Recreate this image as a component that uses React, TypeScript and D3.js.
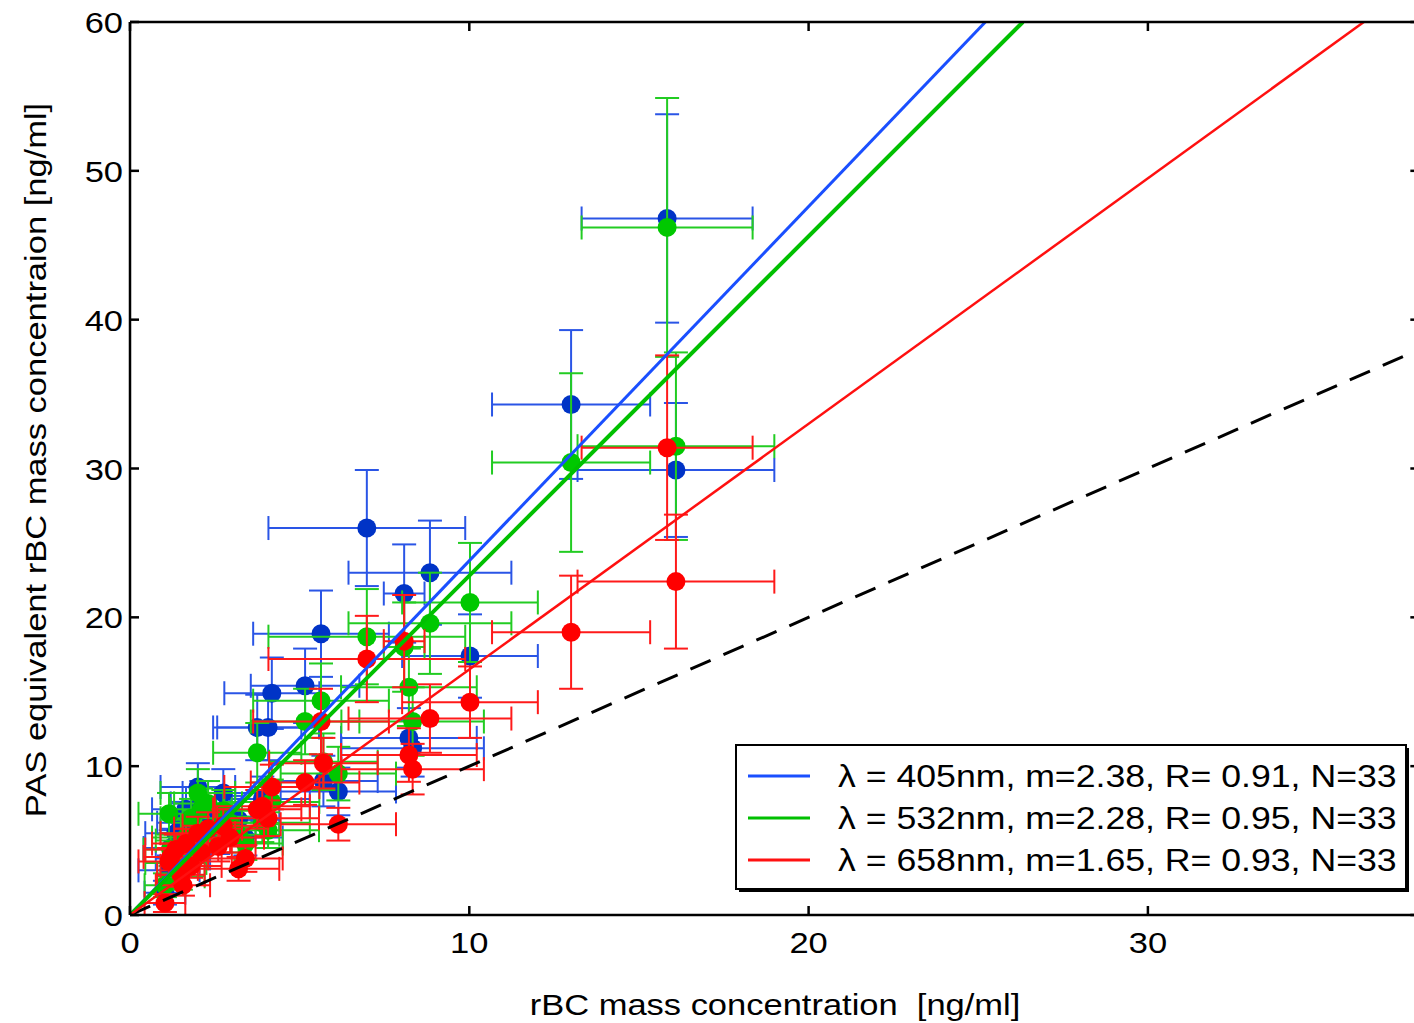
import React from "react";
import * as d3 from "d3";

const xVals = [1.03, 1.15, 1.2, 1.35, 1.5, 1.56, 1.65, 1.8, 2.0, 2.1, 2.3, 2.6, 2.75, 2.95, 3.2, 3.4, 3.75, 3.9, 4.07, 4.18, 5.16, 5.63, 5.7, 6.14, 6.98, 8.08, 8.22, 8.33, 8.84, 10.02, 13.0, 15.83, 16.09];
const xErr = [0.6, 0.9, 0.8, 0.9, 0.7, 0.8, 1.0, 0.9, 1.1, 0.9, 1.0, 1.1, 1.2, 1.0, 1.2, 1.1, 1.3, 1.4, 1.5, 1.4, 1.6, 2.0, 1.6, 1.7, 2.9, 0.6, 2.0, 2.1, 2.4, 2.0, 2.33, 2.52, 2.9];

const blueY = [1.5, 3.0, 4.5, 5.5, 6.2, 3.8, 7.1, 5.8, 8.6, 7.5, 6.8, 5.4, 8.2, 6.6, 6.4, 5.2, 12.6, 7.8, 12.6, 14.9, 15.4, 18.9, 9.0, 8.3, 26.0, 21.6, 11.9, 11.2, 23.0, 17.4, 34.3, 46.8, 29.9];
const blueErr = [0.8, 1.0, 1.2, 1.3, 1.4, 1.0, 1.5, 1.3, 1.6, 1.5, 1.4, 1.3, 1.6, 1.4, 1.4, 1.2, 2.2, 1.5, 2.2, 2.4, 2.5, 2.9, 1.7, 1.6, 3.9, 3.3, 2.0, 1.9, 3.5, 2.8, 5.0, 7.0, 4.5];

const greenY = [2.0, 6.8, 4.4, 3.5, 2.6, 5.0, 5.2, 6.5, 8.2, 7.1, 7.5, 6.0, 7.0, 6.2, 5.4, 4.8, 10.9, 6.2, 5.7, 7.6, 13.0, 14.4, 10.3, 9.5, 18.7, 18.0, 15.3, 13.0, 19.6, 21.0, 30.4, 46.2, 31.5];
const greenErr = [0.8, 1.4, 1.1, 1.0, 0.9, 1.2, 1.2, 1.3, 1.6, 1.4, 1.5, 1.3, 1.4, 1.3, 1.2, 1.1, 2.0, 1.3, 1.2, 1.5, 2.2, 2.5, 1.9, 1.8, 3.2, 3.0, 2.6, 2.3, 3.4, 4.0, 6.0, 8.7, 6.3];

const redY = [0.8, 3.6, 3.9, 4.4, 2.7, 2.0, 4.8, 3.3, 5.5, 4.2, 5.8, 4.6, 6.0, 5.2, 3.1, 3.8, 7.1, 7.3, 6.5, 8.6, 8.9, 13.0, 10.2, 6.1, 17.2, 18.4, 10.75, 9.8, 13.2, 14.3, 19.0, 31.4, 22.4];
const redErr = [0.6, 0.9, 0.9, 1.0, 0.8, 0.7, 1.0, 0.8, 1.1, 0.9, 1.1, 1.0, 1.1, 1.0, 0.8, 0.9, 1.3, 1.3, 1.2, 1.5, 1.5, 2.2, 1.7, 1.1, 2.9, 3.1, 1.8, 1.7, 2.3, 2.4, 3.8, 6.2, 4.5];

const slopes = [2.38, 2.28, 1.65];
const legendLabels = [
  "λ = 405nm, m=2.38, R= 0.91, N=33",
  "λ = 532nm, m=2.28, R= 0.95, N=33",
  "λ = 658nm, m=1.65, R= 0.93, N=33",
];
const xTicks = [0, 10, 20, 30];
const yTicks = [0, 10, 20, 30, 40, 50, 60];

const seriesStyles = [
  { marker: "#0033c6", bar: "#2a55e6", line: "#1a4fff", lw: 3 },
  { marker: "#00c800", bar: "#22cc22", line: "#00c000", lw: 4 },
  { marker: "#ff0000", bar: "#ff1a1a", line: "#ff1010", lw: 2.5 },
];

const W = 1414;
const H = 1023;
const left = 130;
const top = 22;
const bottom = 915;
const xMax = 38;
const xScale = d3.scaleLinear().domain([0, xMax]).range([left, left + xMax * 33.93]);
const yScale = d3.scaleLinear().domain([0, 60]).range([bottom, top]);
const FONT = "Liberation Sans, Arial, sans-serif";
const SX = 1.15;

function SText({ x, y, anchor = "start", size = 30, rotate = 0, children }: any) {
  return (
    <text
      transform={`translate(${x},${y}) rotate(${rotate}) scale(${SX},1)`}
      textAnchor={anchor}
      fontFamily={FONT}
      fontSize={size}
      fill="#000"
      style={{ whiteSpace: "pre" }}
    >
      {children}
    </text>
  );
}

function Series({ ys, errs, style }: { ys: number[]; errs: number[]; style: any }) {
  const cap = 12;
  return (
    <g>
      {xVals.map((x, i) => {
        const cx = xScale(x);
        const cy = yScale(ys[i]);
        const x0 = xScale(Math.max(0, x - xErr[i]));
        const x1 = xScale(x + xErr[i]);
        const y0 = yScale(Math.max(0, ys[i] - errs[i]));
        const y1 = yScale(ys[i] + errs[i]);
        return (
          <g key={i} stroke={style.bar} strokeWidth={2} fill="none">
            <line x1={cx} x2={cx} y1={y0} y2={y1} />
            <line x1={cx - cap} x2={cx + cap} y1={y0} y2={y0} />
            <line x1={cx - cap} x2={cx + cap} y1={y1} y2={y1} />
            <line x1={x0} x2={x1} y1={cy} y2={cy} />
            <line x1={x0} x2={x0} y1={cy - cap} y2={cy + cap} />
            <line x1={x1} x2={x1} y1={cy - cap} y2={cy + cap} />
          </g>
        );
      })}
      {xVals.map((x, i) => (
        <circle key={"m" + i} cx={xScale(x)} cy={yScale(ys[i])} r={9.5} fill={style.marker} />
      ))}
    </g>
  );
}

export default function App() {
  const seriesData = [
    { ys: blueY, errs: blueErr },
    { ys: greenY, errs: greenErr },
    { ys: redY, errs: redErr },
  ];
  const xRight = xScale(xMax);
  const fitLine = (m: number) => {
    const xEnd = Math.min(xMax, 60 / m);
    return d3.line<number>()
      .x((d) => xScale(d))
      .y((d) => yScale(m * d))([0, xEnd]) as string;
  };
  const lgX = 736, lgY = 745, lgW = 670, lgH = 144;
  return (
    <svg width={W} height={H} style={{ position: "absolute", left: 0, top: 0, background: "#fff" }}>
      <rect x={0} y={0} width={W} height={H} fill="#fff" />
      <defs>
        <clipPath id="plotClip">
          <rect x={left} y={top} width={xRight - left} height={bottom - top} />
        </clipPath>
      </defs>
      <g clipPath="url(#plotClip)">
        {seriesData.map((s, k) => (
          <Series key={k} ys={s.ys} errs={s.errs} style={seriesStyles[k]} />
        ))}
        <line x1={xScale(0)} y1={yScale(0)} x2={xScale(xMax)} y2={yScale(xMax)} stroke="#000" strokeWidth={3} strokeDasharray="22 14" />
        {slopes.map((m, k) => (
          <path key={k} d={fitLine(m)} stroke={seriesStyles[k].line} strokeWidth={seriesStyles[k].lw} fill="none" />
        ))}
      </g>
      <g stroke="#000" strokeWidth={2.5} fill="none">
        <line x1={left} x2={xRight} y1={bottom} y2={bottom} />
        <line x1={left} x2={xRight} y1={top} y2={top} />
        <line x1={left} x2={left} y1={top} y2={bottom} />
        <line x1={xRight} x2={xRight} y1={top} y2={bottom} />
        {xTicks.map((t) => (
          <g key={"xt" + t}>
            <line x1={xScale(t)} x2={xScale(t)} y1={bottom} y2={bottom - 9} />
            <line x1={xScale(t)} x2={xScale(t)} y1={top} y2={top + 9} />
          </g>
        ))}
        {yTicks.map((t) => (
          <g key={"yt" + t}>
            <line x1={left} x2={left + 9} y1={yScale(t)} y2={yScale(t)} />
            <line x1={xRight} x2={xRight - 9} y1={yScale(t)} y2={yScale(t)} />
          </g>
        ))}
      </g>
      {xTicks.map((t) => (
        <SText key={"xl" + t} x={xScale(t)} y={953} anchor="middle">{String(t)}</SText>
      ))}
      {yTicks.map((t) => (
        <SText key={"yl" + t} x={123} y={yScale(t) + 11} anchor="end">{String(t)}</SText>
      ))}
      <SText x={775} y={1015} anchor="middle">{"rBC mass concentration  [ng/ml]"}</SText>
      <SText x={46} y={460} anchor="middle" rotate={-90}>{"PAS equivalent rBC mass concentraion [ng/ml]"}</SText>
      <g>
        <rect x={lgX + 3} y={lgY + 3} width={lgW} height={lgH} fill="#000" />
        <rect x={lgX} y={lgY} width={lgW} height={lgH} fill="#fff" stroke="#000" strokeWidth={2} />
        {legendLabels.map((lab, k) => {
          const yy = lgY + 31 + k * 42;
          return (
            <g key={k}>
              <line x1={lgX + 12} x2={lgX + 74} y1={yy} y2={yy} stroke={seriesStyles[k].line} strokeWidth={3} />
              <SText x={lgX + 102} y={yy + 11} size={31}>{lab}</SText>
            </g>
          );
        })}
      </g>
    </svg>
  );
}
